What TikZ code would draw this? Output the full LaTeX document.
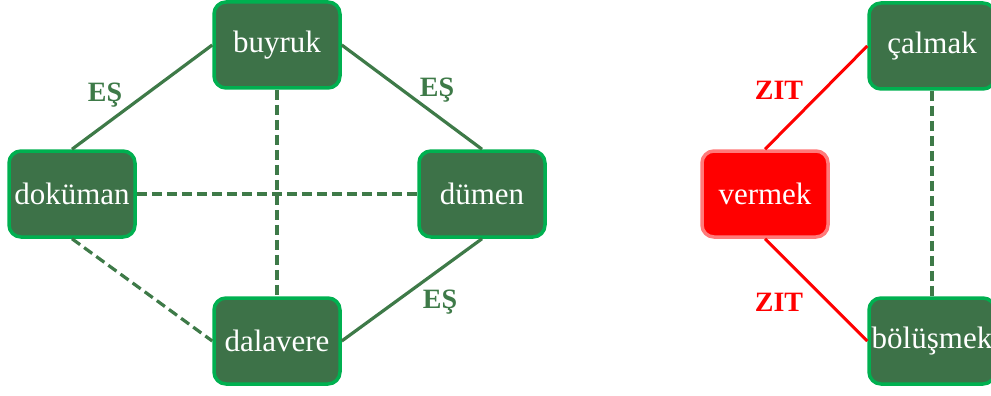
\documentclass[tikz,border=0pt]{standalone}
\usepackage{fontspec}
\setmainfont{Liberation Serif}
\definecolor{boxfill}{HTML}{3D7248}
\definecolor{boxedge}{HTML}{00B050}
\definecolor{linkgreen}{HTML}{3E7A48}
\definecolor{zitred}{HTML}{FF0000}
\definecolor{zitedge}{HTML}{FF7A7A}
\begin{document}
\begin{tikzpicture}[x=1pt,y=-1pt,
  word/.style={draw=boxedge, fill=boxfill, line width=3.5pt, rounded corners=12pt,
    minimum width=126pt, minimum height=86pt, inner sep=0pt,
    text=white, font=\fontsize{31}{34}\selectfont},
  redword/.style={word, draw=zitedge, fill=zitred},
  same/.style={draw=linkgreen, line width=3.2pt},
  related/.style={draw=linkgreen, line width=3.2pt, dash pattern=on 10pt off 5pt},
  opposite/.style={draw=zitred, line width=3pt},
  eslabel/.style={text=linkgreen, font=\bfseries\fontsize{28}{30}\selectfont},
  zitlabel/.style={text=zitred, font=\bfseries\fontsize{28}{30}\selectfont}]
\useasboundingbox (0,0) rectangle (991,396);

% left group
\node[word] (buyruk) at (277,45) {buyruk};
\node[word] (dokuman) at (72,194) {doküman};
\node[word] (dumen) at (482,194) {dümen};
\node[word] (dalavere) at (277,341) {dalavere};

\draw[same] (dokuman.north) -- (buyruk.west);
\draw[same] (buyruk.east) -- (dumen.north);
\draw[same] (dumen.south) -- (dalavere.east);
\draw[related] (dokuman.south) -- (dalavere.west);
\draw[related] (buyruk.south) -- (dalavere.north);
\draw[related] (dokuman.east) -- (dumen.west);

\node[eslabel] (es1) at (105,95) {EŞ};
\node[eslabel] (es2) at (437,90) {EŞ};
\node[eslabel] (es3) at (440,302) {EŞ};

% right group
\node[redword] (vermek) at (765,194) {vermek};
\node[word] (calmak) at (932,46) {çalmak};
\node[word] (bolusmek) at (932,341) {bölüşmek};

\draw[opposite] (vermek.north) -- (calmak.west);
\draw[opposite] (vermek.south) -- (bolusmek.west);
\draw[related] (calmak.south) -- (bolusmek.north);

\node[zitlabel] (zit1) at (779,90) {ZIT};
\node[zitlabel] (zit2) at (779,302) {ZIT};
\end{tikzpicture}
\end{document}
